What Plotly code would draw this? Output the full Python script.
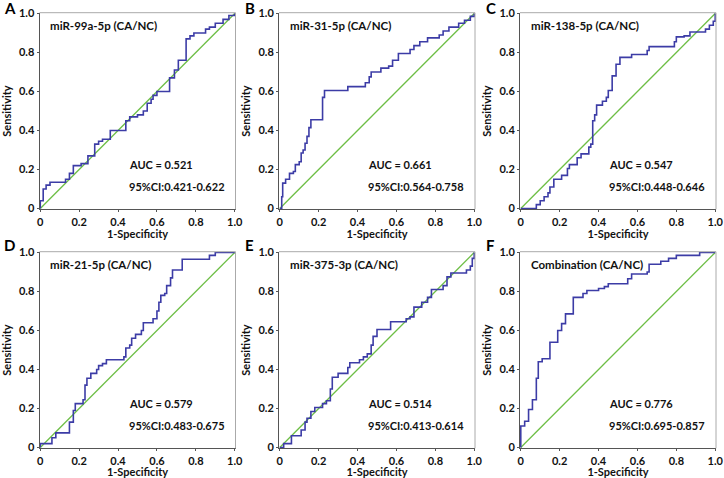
import plotly.graph_objects as go

# ROC vertices (1-specificity, sensitivity)
a_fpr = [0, 0, 0.015, 0.03, 0.05, 0.13, 0.15, 0.17, 0.21, 0.245, 0.28, 0.30, 0.32, 0.36, 0.44, 0.46, 0.50, 0.53, 0.55, 0.57, 0.58, 0.60, 0.665, 0.69, 0.71, 0.75, 0.77, 0.79, 0.85, 0.87, 0.90, 0.94, 0.97, 1.0]
a_tpr = [0, 0.04, 0.10, 0.12, 0.135, 0.15, 0.18, 0.22, 0.23, 0.27, 0.33, 0.345, 0.355, 0.40, 0.45, 0.47, 0.48, 0.50, 0.54, 0.56, 0.58, 0.60, 0.67, 0.71, 0.76, 0.87, 0.885, 0.90, 0.92, 0.93, 0.95, 0.97, 0.99, 1.0]

b_fpr = [0, 0.01, 0.015, 0.03, 0.05, 0.07, 0.08, 0.10, 0.11, 0.12, 0.13, 0.14, 0.15, 0.16, 0.22, 0.23, 0.35, 0.44, 0.46, 0.47, 0.52, 0.56, 0.58, 0.61, 0.67, 0.69, 0.72, 0.76, 0.82, 0.84, 0.87, 0.92, 0.95, 0.98, 1.0]
b_tpr = [0, 0.06, 0.13, 0.15, 0.18, 0.19, 0.225, 0.24, 0.285, 0.30, 0.335, 0.37, 0.415, 0.455, 0.57, 0.605, 0.625, 0.645, 0.675, 0.70, 0.72, 0.73, 0.76, 0.795, 0.815, 0.835, 0.855, 0.875, 0.89, 0.91, 0.93, 0.95, 0.965, 0.985, 1.0]

c_fpr = [0, 0.08, 0.10, 0.12, 0.14, 0.15, 0.17, 0.21, 0.24, 0.25, 0.29, 0.31, 0.35, 0.36, 0.37, 0.38, 0.39, 0.42, 0.44, 0.45, 0.47, 0.49, 0.51, 0.57, 0.65, 0.66, 0.79, 0.80, 0.84, 0.87, 0.95, 0.97, 0.99, 1.0]
c_tpr = [0, 0.02, 0.04, 0.06, 0.08, 0.11, 0.15, 0.17, 0.205, 0.225, 0.26, 0.28, 0.315, 0.33, 0.45, 0.48, 0.53, 0.55, 0.57, 0.605, 0.68, 0.74, 0.775, 0.79, 0.81, 0.83, 0.855, 0.88, 0.885, 0.905, 0.92, 0.94, 0.96, 1.0]

d_fpr = [0, 0, 0.06, 0.08, 0.15, 0.17, 0.18, 0.22, 0.23, 0.24, 0.26, 0.29, 0.30, 0.32, 0.34, 0.43, 0.44, 0.46, 0.47, 0.49, 0.52, 0.53, 0.58, 0.60, 0.61, 0.62, 0.64, 0.65, 0.67, 0.68, 0.73, 0.87, 0.90, 1.0]
d_tpr = [0, 0.02, 0.05, 0.075, 0.13, 0.19, 0.225, 0.245, 0.32, 0.355, 0.38, 0.40, 0.42, 0.43, 0.45, 0.465, 0.51, 0.525, 0.56, 0.58, 0.60, 0.64, 0.66, 0.70, 0.745, 0.78, 0.79, 0.83, 0.87, 0.91, 0.965, 0.985, 1.0, 1.0]

e_fpr = [0, 0.02, 0.06, 0.11, 0.13, 0.14, 0.16, 0.18, 0.22, 0.24, 0.26, 0.27, 0.30, 0.35, 0.36, 0.41, 0.43, 0.45, 0.47, 0.48, 0.50, 0.57, 0.65, 0.67, 0.69, 0.73, 0.76, 0.78, 0.84, 0.86, 0.88, 0.96, 0.98, 0.99, 1.0]
e_tpr = [0, 0.02, 0.06, 0.09, 0.13, 0.15, 0.185, 0.205, 0.225, 0.24, 0.30, 0.36, 0.38, 0.41, 0.435, 0.45, 0.465, 0.48, 0.525, 0.57, 0.605, 0.645, 0.66, 0.67, 0.72, 0.745, 0.77, 0.81, 0.83, 0.875, 0.895, 0.91, 0.93, 0.97, 1.0]

f_fpr = [0, 0, 0.02, 0.04, 0.06, 0.08, 0.09, 0.11, 0.15, 0.19, 0.21, 0.23, 0.27, 0.32, 0.34, 0.40, 0.43, 0.45, 0.55, 0.57, 0.65, 0.66, 0.72, 0.76, 0.80, 0.92, 1.0]
f_tpr = [0, 0.11, 0.135, 0.195, 0.245, 0.355, 0.44, 0.455, 0.54, 0.60, 0.635, 0.685, 0.77, 0.79, 0.805, 0.815, 0.825, 0.84, 0.865, 0.89, 0.90, 0.94, 0.955, 0.97, 0.985, 1.0, 1.0]

letters = ["A", "B", "C", "D", "E", "F"]
names = ["miR-99a-5p (CA/NC)", "miR-31-5p (CA/NC)", "miR-138-5p (CA/NC)",
         "miR-21-5p (CA/NC)", "miR-375-3p (CA/NC)", "Combination (CA/NC)"]
aucs = ["AUC = 0.521", "AUC = 0.661", "AUC = 0.547", "AUC = 0.579", "AUC = 0.514", "AUC = 0.776"]
cis = ["95%CI:0.421-0.622", "95%CI:0.564-0.758", "95%CI:0.448-0.646",
       "95%CI:0.483-0.675", "95%CI:0.413-0.614", "95%CI:0.695-0.857"]
curves = [(a_fpr, a_tpr), (b_fpr, b_tpr), (c_fpr, c_tpr), (d_fpr, d_tpr), (e_fpr, e_tpr), (f_fpr, f_tpr)]
ticks = [0, 0.2, 0.4, 0.6, 0.8, 1.0]
tick_text = ["0", "0.2", "0.4", "0.6", "0.8", "1.0"]

W, H = 724, 478
xdoms = [(39.5, 235.5), (279, 475), (520, 716)]
ydoms = [(12.7, 209.3), (251.7, 448.3)]

FONT = "Lato"
BLUE = "#3c3ca6"
GREEN = "#6dbe45"

fig = go.Figure()
shapes = []
annotations = []

for i in range(6):
    r, c = divmod(i, 3)
    n = "" if i == 0 else str(i + 1)
    xa, ya = "x" + n, "y" + n
    x0, x1 = xdoms[c]
    y0, y1 = ydoms[r]
    xd = [x0 / W, x1 / W]
    yd = [1 - y1 / H, 1 - y0 / H]

    fig.add_trace(go.Scatter(x=[0, 1], y=[0, 1], mode="lines", line=dict(color=GREEN, width=1.3),
                             xaxis=xa, yaxis=ya, showlegend=False, hoverinfo="skip"))
    fx, fy = curves[i]
    fig.add_trace(go.Scatter(x=fx, y=fy, mode="lines", line=dict(color=BLUE, width=1.6, shape="hv"),
                             xaxis=xa, yaxis=ya, showlegend=False))

    label_font = dict(family=FONT, size=11, color="#111111", weight="bold")
    axis_common = dict(range=[-0.004, 1.004], tickvals=ticks, ticktext=tick_text, showgrid=False,
                       zeroline=False, showline=True, linecolor="#555555", linewidth=1,
                       ticks="outside", ticklen=2, tickcolor="#555555", automargin=False,
                       tickfont=label_font)
    fig.update_layout({
        ("xaxis" + n): dict(axis_common, domain=xd, anchor=ya,
                            title=dict(text="1-Specificity", standoff=0, font=label_font)),
        ("yaxis" + n): dict(axis_common, domain=yd, anchor=xa,
                            title=dict(text="Sensitivity", standoff=5, font=label_font)),
    })

    # light frame on the top and right sides
    shapes.append(dict(type="line", xref="paper", yref="paper", x0=xd[0], x1=xd[1], y0=yd[1], y1=yd[1],
                       line=dict(color="#aaaaaa", width=1)))
    shapes.append(dict(type="line", xref="paper", yref="paper", x0=xd[1], x1=xd[1], y0=yd[0], y1=yd[1],
                       line=dict(color="#aaaaaa", width=1)))

    annotations.append(dict(text=names[i], x=0.04, y=0.94, xref=xa, yref=ya, xanchor="left",
                            yanchor="middle", showarrow=False,
                            font=dict(family=FONT, size=11.5, color="#111111", weight="bold")))
    annotations.append(dict(text=aucs[i], x=0.445, y=0.225, xref=xa, yref=ya, xanchor="left",
                            yanchor="middle", showarrow=False, font=label_font))
    annotations.append(dict(text=cis[i], x=0.445, y=0.115, xref=xa, yref=ya, xanchor="left",
                            yanchor="middle", showarrow=False, font=label_font))
    annotations.append(dict(text=letters[i], x=(2 + 241 * c) / W, y=1 - (8 + 237 * r) / H,
                            xref="paper", yref="paper", xanchor="left", yanchor="middle", showarrow=False,
                            font=dict(family=FONT, size=15, color="#000000", weight="bold")))

fig.update_layout(width=W, height=H, margin=dict(l=0, r=0, t=0, b=0),
                  paper_bgcolor="white", plot_bgcolor="white",
                  shapes=shapes, annotations=annotations)

# the page's default body margin would push the figure 8px off the window
fig.write_html("out.html", config={"displayModeBar": False},
               post_script="document.body.style.margin='0';")
